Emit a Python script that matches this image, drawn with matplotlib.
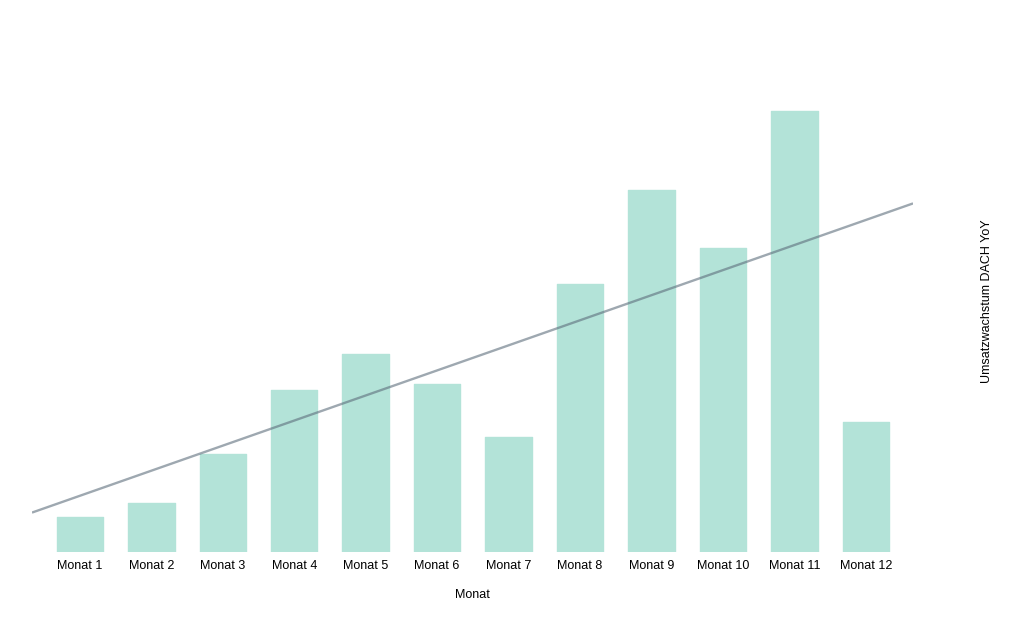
import numpy as np
import matplotlib.pyplot as plt

plt.rcParams['font.family'] = ['Liberation Sans', 'DejaVu Sans']

months = ["Monat %d" % i for i in range(1, 13)]
growth = [3.5, 4.9, 9.8, 16.2, 19.8, 16.8, 11.5, 26.8, 36.2, 30.4, 44.1, 13.0]

fig = plt.figure(figsize=(10.24, 6.34), dpi=100)
ax = fig.add_axes([0.03125, 0.1293, 0.8604, 0.7886])

x = np.arange(len(months))
ax.bar(x, growth, width=0.65, color="#b3e3d8", edgecolor="#b3e3d8",
       linewidth=1, joinstyle="round")

# linear trend over the whole axis
xlim = (-0.67, 11.66)
k, d = np.polyfit(x, growth, 1)
tx = np.array(xlim)
ax.plot(tx, k * tx + d, color="#5d6e7c", alpha=0.6, lw=1.7, solid_capstyle="butt")

ax.set_xlim(*xlim)
ax.set_ylim(0, 50)
ax.set_xticks(x)
ax.set_xticklabels(months, fontsize=9)
ax.tick_params(axis="x", length=0, pad=6)
ax.set_yticks([])
for s in ax.spines.values():
    s.set_visible(False)
ax.set_xlabel("Monat", fontsize=9, labelpad=12)

fig.text(0.964, 0.525, "Umsatzwachstum DACH YoY", rotation=90,
         ha="center", va="center", fontsize=9)

fig.savefig("out.png", dpi=100)
